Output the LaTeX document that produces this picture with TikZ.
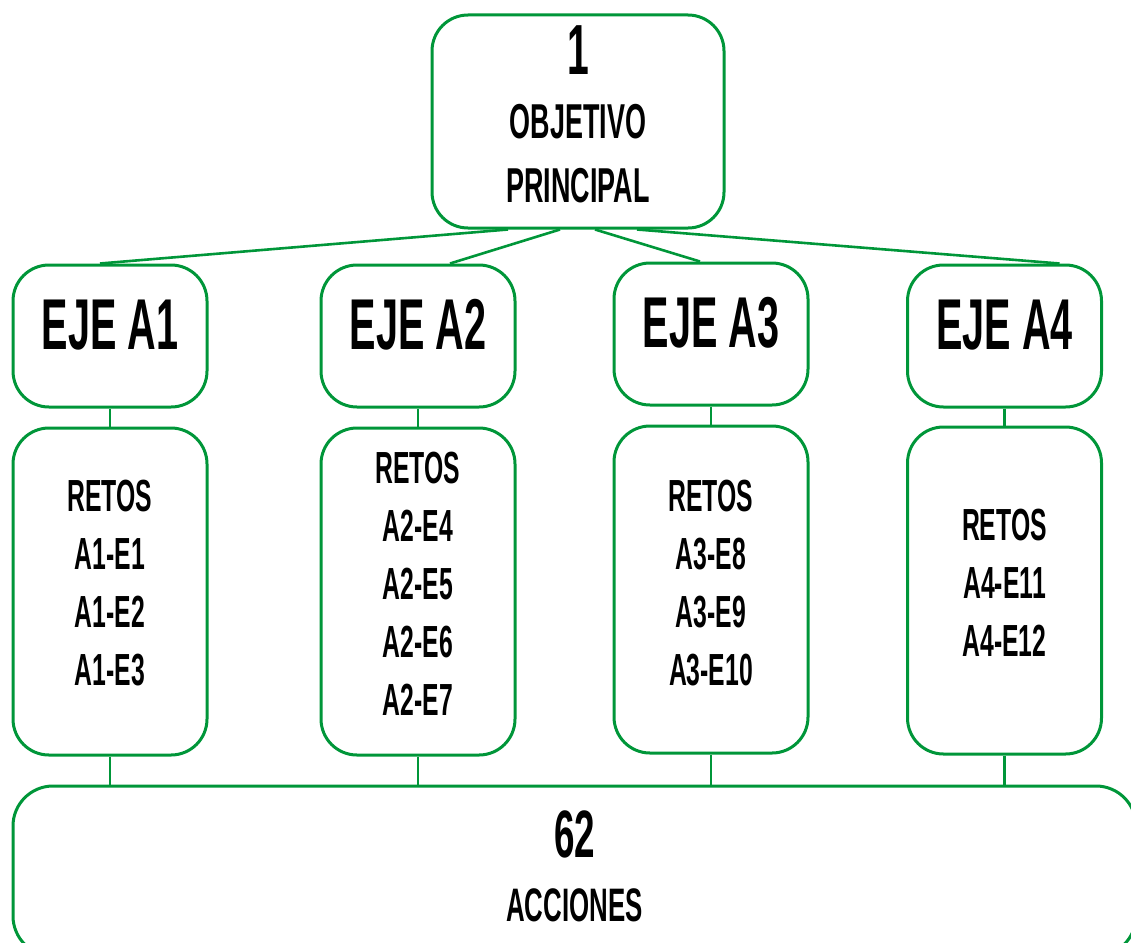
\documentclass[tikz,border=0pt]{standalone}
\usepackage{fontspec}
\setmainfont{Liberation Sans Bold}[FakeStretch=0.55]
\usepackage{xcolor}
\usetikzlibrary{calc}
\definecolor{verde}{RGB}{0,150,57}

\begin{document}
\begin{tikzpicture}[x=1pt, y=-1pt,
    caja/.style={rectangle, draw=verde, line width=3pt, rounded corners=36pt, inner sep=0pt},
    eje/.style={caja, minimum width=194pt, minimum height=142pt},
    reto/.style={caja, minimum width=194pt, minimum height=327pt},
    texto/.style={align=center, inner sep=0pt},
    linea/.style={draw=verde, line width=2.6pt}]
    \clip (0, 0) rectangle (1131, 942);

    % objetivo
    \node[caja, minimum width=292pt, minimum height=213pt] (obj) at (578, 121.5) {};
    \node[texto, font=\fontsize{49}{64}\selectfont] (tobj) at ($(obj)+(0, -7)$)
        {{\fontsize{71}{64}\selectfont 1}\\ OBJETIVO\\ PRINCIPAL};

    % ejes
    \node[eje] (a1) at (110, 336) {};
    \node[eje] (a2) at (418, 336) {};
    \node[eje] (a3) at (711, 334) {};
    \node[eje] (a4) at (1004.5, 336) {};
    \node[texto, font=\fontsize{72}{72}\selectfont] (ta1) at ($(a1)+(0, -11)$) {EJE A1};
    \node[texto, font=\fontsize{72}{72}\selectfont] (ta2) at ($(a2)+(0, -11)$) {EJE A2};
    \node[texto, font=\fontsize{72}{72}\selectfont] (ta3) at ($(a3)+(0, -11)$) {EJE A3};
    \node[texto, font=\fontsize{72}{72}\selectfont] (ta4) at ($(a4)+(0, -11)$) {EJE A4};

    % retos
    \node[reto] (r1) at (110, 591.5) {};
    \node[reto] (r2) at (418, 591.5) {};
    \node[reto] (r3) at (711, 589.5) {};
    \node[reto] (r4) at (1004.5, 590.5) {};
    \node[texto, font=\fontsize{45}{58}\selectfont] (tr1) at ($(r1)+(0, -8)$) {RETOS\\ A1-E1\\ A1-E2\\ A1-E3};
    \node[texto, font=\fontsize{45}{58}\selectfont] (tr2) at ($(r2)+(0, -8)$) {RETOS\\ A2-E4\\ A2-E5\\ A2-E6\\ A2-E7};
    \node[texto, font=\fontsize{45}{58}\selectfont] (tr3) at ($(r3)+(0, -6)$) {RETOS\\ A3-E8\\ A3-E9\\ A3-E10};
    \node[texto, font=\fontsize{45}{58}\selectfont] (tr4) at ($(r4)+(0, -8)$) {RETOS\\ A4-E11\\ A4-E12};

    % acciones
    \node[caja, rounded corners=40pt, minimum width=1123pt, minimum height=170pt] (acc) at (574.5, 871) {};
    \node[texto, font=\fontsize{47}{64}\selectfont] (tacc) at ($(acc)+(0, -5)$)
        {{\fontsize{67}{64}\selectfont 62}\\ ACCIONES};

    \draw[linea] ($(obj.south)+(-70, 0)$) -- ($(a1.north)+(-10, 0)$);
    \draw[linea] ($(obj.south)+(-18, 0)$) -- ($(a2.north)+(32, 0)$);
    \draw[linea] ($(obj.south)+(17, 0)$) -- ($(a3.north)+(-11, 0)$);
    \draw[linea] ($(obj.south)+(59, 0)$) -- ($(a4.north)+(55, 0)$);

    \draw[linea] (a1.south) -- (r1.north);
    \draw[linea] (a2.south) -- (r2.north);
    \draw[linea] (a3.south) -- (r3.north);
    \draw[linea] (a4.south) -- (r4.north);

    \draw[linea] (r1.south) -- (r1.south |- acc.north);
    \draw[linea] (r2.south) -- (r2.south |- acc.north);
    \draw[linea] (r3.south) -- (r3.south |- acc.north);
    \draw[linea] (r4.south) -- (r4.south |- acc.north);
\end{tikzpicture}
\end{document}
